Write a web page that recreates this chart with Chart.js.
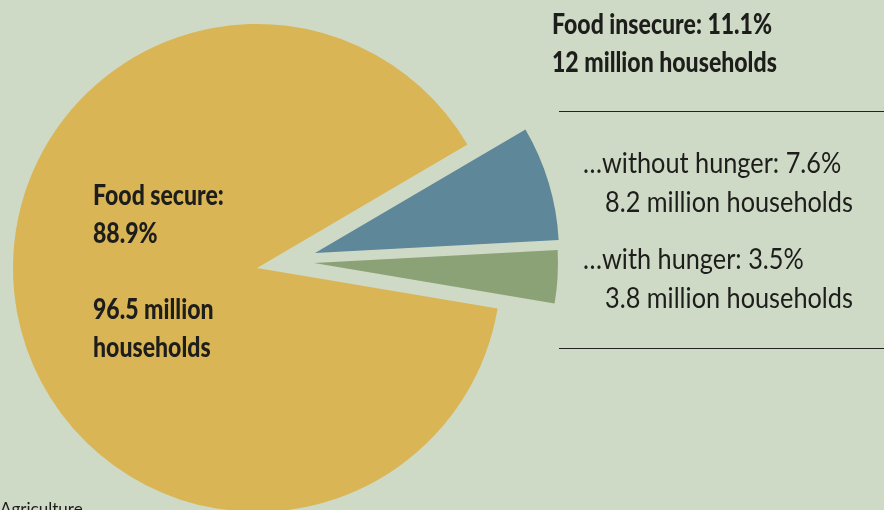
<!DOCTYPE html>
<html>
<head>
<meta charset="utf-8">
<script src="https://cdn.jsdelivr.net/npm/chart.js@4"></script>
<style>
  html, body { margin: 0; padding: 0; }
  body { width: 884px; height: 510px; overflow: hidden; background: #cfdac6; position: relative; font-family: Lato, "Open Sans", sans-serif; color: #1d1d1b; }
  #wrap { position: absolute; left: 0; top: 0; width: 884px; height: 520px; }
  .t { position: absolute; white-space: pre; transform-origin: 0 0; line-height: 1; }
  .b { font-weight: 900; font-size: 29px; }
  .r { font-weight: 400; font-size: 28px; }
  .rule { position: absolute; left: 559px; width: 325px; height: 0; border-top: 1.6px solid #222; }
</style>
</head>
<body>
<div id="wrap"><canvas id="c"></canvas></div>

<div class="rule" style="top:111px"></div>
<div class="rule" style="top:348px"></div>

<div id="texts"></div>

<script>
// ---- data ----
const categories = ["…without hunger", "…with hunger", "Food secure"];
const sharePercent = [7.6, 3.5, 88.9];
const millionHouseholds = [8.2, 3.8, 96.5];
const insecureTotalPercent = 11.1;
const insecureTotalMillions = 12;

// ---- styles ----
const sliceColors = ["#5e8799", "#8ba277", "#dab555"];
const sliceShift = [[58, -15], [57, -5], [0, 0]];

const shiftPlugin = {
  id: 'shiftSlices',
  beforeDatasetDraw(chart, args) {
    const ctx = chart.ctx;
    args.meta.data.forEach((arc, i) => {
      ctx.save();
      ctx.translate(sliceShift[i][0], sliceShift[i][1]);
      arc.draw(ctx);
      ctx.restore();
    });
    return false;
  }
};

new Chart(document.getElementById('c'), {
  type: 'pie',
  data: {
    labels: categories,
    datasets: [{
      data: sharePercent,
      backgroundColor: sliceColors,
      borderWidth: 0,
      hoverOffset: 0
    }]
  },
  options: {
    responsive: true,
    maintainAspectRatio: false,
    animation: false,
    events: [],
    rotation: 59.6,
    layout: { padding: { left: 13, top: 24, right: 383, bottom: 8 } },
    plugins: { legend: { display: false }, tooltip: { enabled: false } }
  },
  plugins: [shiftPlugin]
});

// ---- text labels ----
const fmt = v => v.toFixed(1);
const lines = [
  // text, class, left, baseline, target width
  ["Food secure:", "b", 93, 205, 139],
  [fmt(sharePercent[2]) + "%", "b", 93, 243, 0],
  [fmt(millionHouseholds[2]) + " million", "b", 93, 319, 0],
  ["households", "b", 93, 357, 0],
  ["Food insecure: " + insecureTotalPercent.toFixed(1) + "%", "b", 552, 34, 220],
  [insecureTotalMillions + " million households", "b", 552, 72, 238],
  [categories[0] + ": " + fmt(sharePercent[0]) + "%", "r", 583, 173, 259],
  [fmt(millionHouseholds[0]) + " million households", "r", 605, 212, 248],
  [categories[1] + ": " + fmt(sharePercent[1]) + "%", "r", 583, 269, 0],
  [fmt(millionHouseholds[1]) + " million households", "r", 605, 308, 0],
  ["Agriculture", "r", 0, 515, 0]
];
const holder = document.getElementById('texts');
const els = lines.map(([txt, cls]) => {
  const d = document.createElement('div');
  d.className = 't ' + cls;
  d.textContent = txt;
  holder.appendChild(d);
  return d;
});
const scaleB = lines[4][4] / els[4].getBoundingClientRect().width;
const scaleR = lines[7][4] / els[7].getBoundingClientRect().width;
els.forEach((d, i) => {
  const [txt, cls, x, base] = lines[i];
  let sx = cls === 'b' ? scaleB : scaleR;
  let fs = cls === 'b' ? 29 : 28;
  if (i === 10) { d.style.fontSize = '17px'; fs = 17; sx = 1; }
  d.style.left = x + 'px';
  d.style.top = (base - fs * 0.887) + 'px';
  d.style.transform = 'scaleX(' + sx.toFixed(3) + ')';
});
</script>
</body>
</html>
